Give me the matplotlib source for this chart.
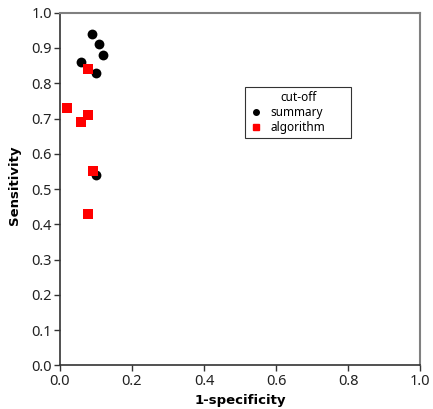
import matplotlib
matplotlib.use("Agg")
import matplotlib.pyplot as plt
from matplotlib.lines import Line2D

plt.rcParams['font.family'] = ['Noto Sans', 'DejaVu Sans']

summary_x = [0.089, 0.108, 0.119, 0.057, 0.099, 0.099]
summary_y = [0.94, 0.91, 0.88, 0.86, 0.83, 0.54]
algorithm_x = [0.079, 0.020, 0.059, 0.079, 0.091, 0.079]
algorithm_y = [0.84, 0.73, 0.69, 0.71, 0.55, 0.43]
ticks = [0.0, 0.2, 0.4, 0.6, 0.8, 1.0]
yticks = [0.0, 0.1, 0.2, 0.3, 0.4, 0.5, 0.6, 0.7, 0.8, 0.9, 1.0]

fig = plt.figure(figsize=(4.33, 4.09), dpi=100)
ax = fig.add_axes([60/433, 1-365.4/409, 360/433, 352.7/409])

ax.scatter(summary_x, summary_y, s=50, marker='o', color='black', zorder=3, linewidths=0)
ax.scatter(algorithm_x, algorithm_y, s=42, marker='s', color='#ff0000', zorder=4, linewidths=0)

ax.set_xlim(0, 1)
ax.set_ylim(0, 1)
ax.set_xticks(ticks)
ax.set_xticklabels([f"{t:.1f}" for t in ticks])
ax.set_yticks(yticks)
ax.set_yticklabels([f"{t:.1f}" for t in yticks])
ax.tick_params(axis='both', direction='out', length=4, width=1, colors='#333333', labelsize=10.5, labelcolor='#222222', pad=2)

for s in ['left', 'bottom']:
    ax.spines[s].set_color('#333333')
    ax.spines[s].set_linewidth(1.2)
for s in ['top', 'right']:
    ax.spines[s].set_color('#808080')
    ax.spines[s].set_linewidth(1.5)

ax.set_xlabel('1-specificity', fontsize=9.5, fontweight='bold', family='DejaVu Sans', labelpad=4)
ax.set_ylabel('Sensitivity', fontsize=9.5, fontweight='bold', family='DejaVu Sans')
ax.yaxis.set_label_coords(-0.108, 0.51)

handles = [
    Line2D([], [], marker='o', linestyle='none', color='black', markersize=4),
    Line2D([], [], marker='s', linestyle='none', color='#ff0000', markersize=4),
]
x0 = (245-60)/360
w = 106/360
y1 = 1-(87-12.7)/352.7
h = 51/352.7
leg = ax.legend(handles, ['summary', 'algorithm'], title='cut-off', loc='upper left',
                bbox_to_anchor=(x0, y1-h, w, h), mode='expand', fontsize=8.5, title_fontsize=8.5,
                frameon=True, fancybox=False, edgecolor='black', borderpad=0.35, borderaxespad=0,
                handletextpad=0.6, labelspacing=0.15, handlelength=1.2)
leg.get_frame().set_linewidth(0.8)

fig.savefig('out.png', dpi=100)
